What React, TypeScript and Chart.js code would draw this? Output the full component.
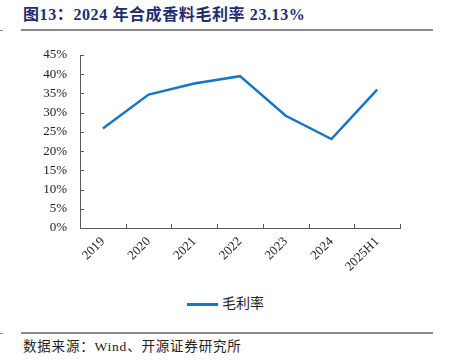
import React, { useEffect, useRef } from "react";
import { Chart, registerables } from "chart.js";

Chart.register(...registerables);

const categories = ["2019", "2020", "2021", "2022", "2023", "2024", "2025H1"];
const grossMargin = [25.9, 34.7, 37.6, 39.5, 29.2, 23.13, 36.0];
const yTicks = [0, 5, 10, 15, 20, 25, 30, 35, 40, 45];
const seriesName = "毛利率";
const titleText = "图13：2024 年合成香料毛利率 23.13%";
const sourceText = "数据来源：Wind、开源证券研究所";

const BLUE = "#1874C4";
const AXIS = "#595959";
const FONT = "'Liberation Serif', 'Noto Sans CJK SC', serif";

const innerTicks = {
  id: "innerTicks",
  afterDraw(chart: any) {
    const { ctx, chartArea, scales } = chart;
    const y = scales.y;
    ctx.save();
    ctx.strokeStyle = AXIS;
    ctx.lineWidth = 1;
    y.ticks.forEach((t: any) => {
      const py = Math.round(y.getPixelForValue(t.value)) + 0.5;
      ctx.beginPath();
      ctx.moveTo(chartArea.left, py);
      ctx.lineTo(chartArea.left + 4, py);
      ctx.stroke();
    });
    const n = categories.length;
    for (let i = 1; i <= n; i++) {
      const px = Math.round(chartArea.left + (i * (chartArea.right - chartArea.left)) / n) + 0.5;
      ctx.beginPath();
      ctx.moveTo(px, chartArea.bottom);
      ctx.lineTo(px, chartArea.bottom - 4);
      ctx.stroke();
    }
    ctx.restore();
  },
};

export default function App() {
  const ref = useRef<HTMLCanvasElement>(null);
  useEffect(() => {
    const chart = new Chart(ref.current!, {
      type: "line",
      data: {
        labels: categories,
        datasets: [
          {
            label: seriesName,
            data: grossMargin,
            borderColor: BLUE,
            backgroundColor: BLUE,
            borderWidth: 2.5,
            pointRadius: 0,
            tension: 0,
          },
        ],
      },
      options: {
        animation: false,
        responsive: false,
        maintainAspectRatio: false,
        layout: { padding: { top: 55, right: 52, left: 0, bottom: 2 } },
        plugins: {
          title: { display: false },
          tooltip: { enabled: false },
          legend: { display: false },
        },
        scales: {
          x: {
            offset: true,
            afterFit: (s: any) => {
              s.height = 60;
            },
            grid: { display: false, drawTicks: false },
            border: { display: true, color: AXIS, width: 1 },
            ticks: {
              minRotation: 45,
              maxRotation: 45,
              color: "#222",
              font: { family: FONT, size: 13 },
              padding: 6,
            },
          },
          y: {
            min: 0,
            max: 45,
            afterFit: (s: any) => {
              s.width = 80;
            },
            afterBuildTicks: (s: any) => {
              s.ticks = yTicks.map((v) => ({ value: v }));
            },
            grid: { display: false, drawTicks: false },
            border: { display: true, color: AXIS, width: 1 },
            ticks: {
              color: "#222",
              font: { family: FONT, size: 13 },
              padding: 13,
              callback: (v: any) => v + "%",
            },
          },
        },
      },
      plugins: [innerTicks],
    });
    return () => chart.destroy();
  }, []);

  return (
    <div style={{ position: "fixed", left: 0, top: 0, width: 452, height: 361, background: "#fff", overflow: "hidden" }}>
      <div
        style={{
          position: "absolute",
          left: 23,
          top: 5,
          fontFamily: FONT,
          fontWeight: "bold",
          fontSize: 16,
          letterSpacing: 0.6,
          color: "#1F2C6E",
          whiteSpace: "nowrap",
          lineHeight: "20px",
        }}
      >
        {titleText}
      </div>
      <div style={{ position: "absolute", left: 21, top: 29, width: 412, height: 1.5, background: "#8a8a8a" }} />
      <div style={{ position: "absolute", left: 0, top: 30, width: 3, height: 1, background: "#888" }} />
      <canvas ref={ref} width={452} height={290} style={{ position: "absolute", left: 0, top: 0 }} />
      <div style={{ position: "absolute", left: 187, top: 302.5, width: 31, height: 3, background: BLUE }} />
      <div
        style={{
          position: "absolute",
          left: 222,
          top: 295,
          fontFamily: FONT,
          fontSize: 14,
          color: "#222",
          whiteSpace: "nowrap",
          lineHeight: "18px",
        }}
      >
        {seriesName}
      </div>
      <div style={{ position: "absolute", left: 21, top: 332, width: 412, height: 1.5, background: "#8a8a8a" }} />
      <div style={{ position: "absolute", left: 0, top: 333, width: 3, height: 1, background: "#888" }} />
      <div
        style={{
          position: "absolute",
          left: 23,
          top: 338,
          fontFamily: FONT,
          fontSize: 13.5,
          letterSpacing: 0.8,
          color: "#222",
          whiteSpace: "nowrap",
          lineHeight: "18px",
        }}
      >
        {sourceText}
      </div>
    </div>
  );
}
